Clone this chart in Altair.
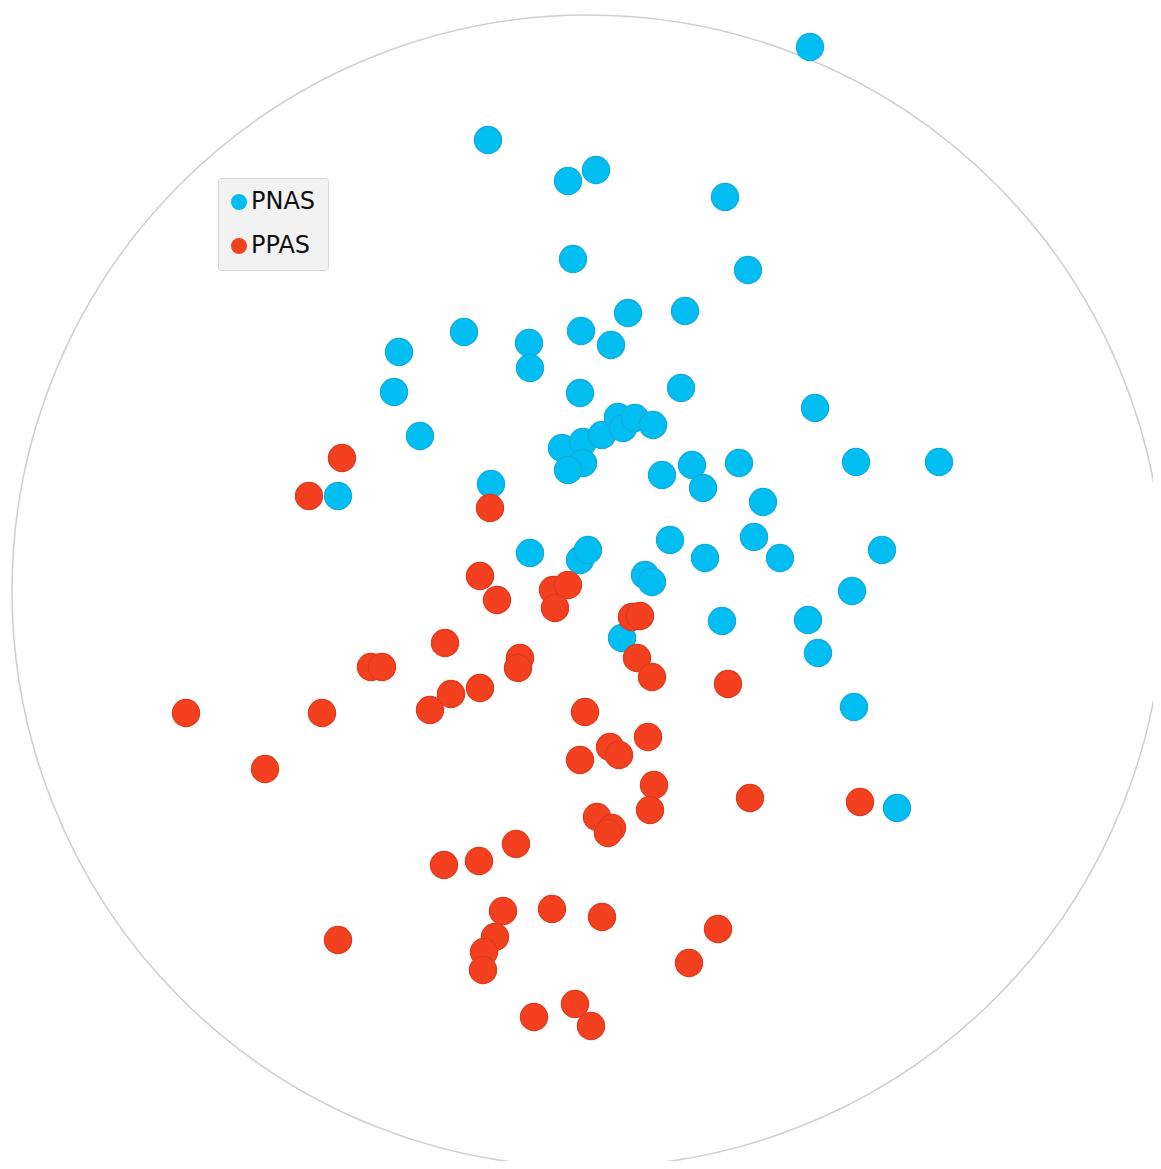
import altair as alt
import pandas as pd

# Score coordinates (pixel-like units, y grows downward)
pnas_x = [810, 488, 568, 596, 725, 573, 748, 464, 581, 628, 685, 529, 611, 399, 530,
          394, 580, 681, 815, 420, 562, 583, 602, 618, 623, 635, 653, 583, 568,
          662, 692, 703, 739, 856, 939, 338, 491, 763, 530, 580, 588, 670, 754,
          705, 780, 882, 645, 652, 852, 722, 808, 818, 622, 854, 897]
pnas_y = [47, 140, 181, 170, 197, 259, 270, 332, 331, 313, 311, 343, 345, 352, 368,
          392, 393, 388, 408, 436, 448, 442, 435, 417, 428, 418, 425, 463, 470,
          475, 465, 488, 463, 462, 462, 496, 484, 502, 553, 560, 550, 540, 537,
          558, 558, 550, 575, 582, 591, 621, 620, 653, 638, 707, 808]

ppas_x = [342, 309, 490, 480, 497, 553, 568, 555, 632, 640, 445, 371, 382, 520, 518,
          637, 652, 728, 186, 322, 430, 451, 480, 585, 648, 580, 610, 619, 265,
          654, 750, 860, 597, 650, 612, 608, 516, 444, 479, 503, 552, 602, 718,
          338, 495, 484, 483, 689, 534, 575, 591]
ppas_y = [458, 496, 508, 576, 600, 590, 585, 608, 617, 616, 643, 667, 667, 658, 668,
          658, 677, 684, 713, 713, 710, 694, 688, 712, 737, 760, 747, 755, 769,
          785, 798, 802, 817, 810, 828, 833, 844, 865, 861, 911, 909, 917, 929,
          940, 937, 952, 970, 963, 1017, 1004, 1026]

groups = ["PNAS", "PPAS"]
colors = ["#00BEF2", "#F3401F"]
strokes = ["#14A9DA", "#DD3A1E"]

# Boundary circle (centre and diameter, same units)
circle_cx = [588]
circle_cy = [591]
circle_diam = 1152

df = pd.DataFrame({
    "x": pnas_x + ppas_x,
    "y": pnas_y + ppas_y,
    "group": ["PNAS"] * len(pnas_x) + ["PPAS"] * len(ppas_x),
})
circ = pd.DataFrame({"x": circle_cx, "y": circle_cy})

W, H = 1145, 1153
xs = alt.Scale(domain=[8, 8 + W], nice=False, zero=False)
ys = alt.Scale(domain=[8, 8 + H], nice=False, zero=False, reverse=True)

boundary = alt.Chart(circ).mark_point(
    shape="circle", filled=False, size=circle_diam ** 2,
    stroke="#d0d0d0", strokeWidth=1.6, opacity=1
).encode(
    x=alt.X("x:Q", scale=xs, axis=None),
    y=alt.Y("y:Q", scale=ys, axis=None),
)

pts = alt.Chart(df).mark_point(
    shape="circle", filled=True, size=740, opacity=1, strokeWidth=1.2
).encode(
    x=alt.X("x:Q", scale=xs, axis=None),
    y=alt.Y("y:Q", scale=ys, axis=None),
    fill=alt.Fill("group:N", scale=alt.Scale(domain=groups, range=colors),
                  legend=alt.Legend(
                      title=None, orient="none", legendX=210, legendY=170,
                      symbolType="circle", symbolSize=256, symbolStrokeWidth=0,
                      symbolOffset=-3,
                      labelFont="DejaVu Sans", labelFontSize=24, labelColor="#111111",
                      labelOffset=0, rowPadding=20, padding=12,
                      fillColor="#f2f2f2", strokeColor="#d6d6d6", cornerRadius=3)),
    stroke=alt.Stroke("group:N", scale=alt.Scale(domain=groups, range=strokes), legend=None),
)

chart = alt.layer(boundary, pts).properties(
    width=W, height=H, padding=0, autosize=alt.AutoSizeParams(type="none")
).configure_view(stroke=None)

chart.save("out.html", embed_options={"renderer": "svg", "actions": False})
